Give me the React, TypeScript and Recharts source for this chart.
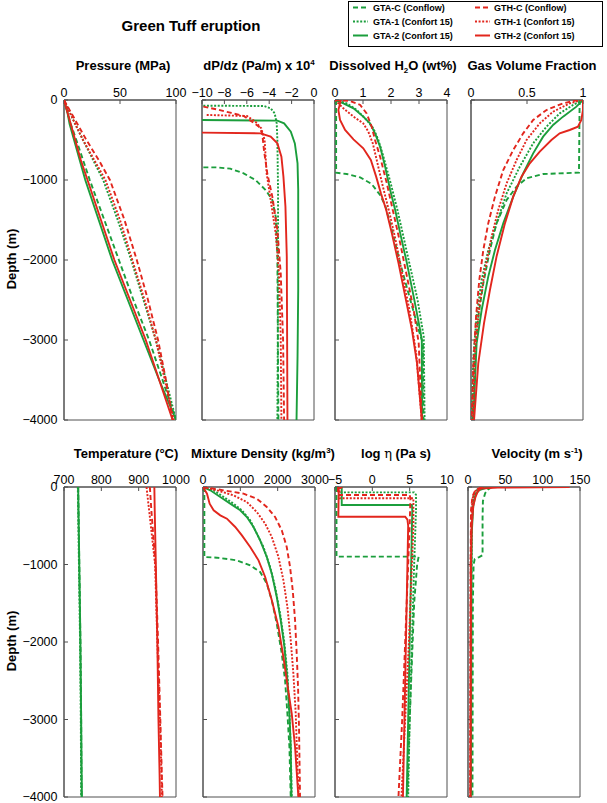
import React from 'react';
import { ScatterChart, Scatter, XAxis, YAxis, ReferenceArea } from 'recharts';

// ---------- series metadata ----------
const SERIES_LABELS = ['GTA-C (Conflow)', 'GTA-1 (Confort 15)', 'GTA-2 (Confort 15)', 'GTH-C (Conflow)', 'GTH-1 (Confort 15)', 'GTH-2 (Confort 15)'];
const GREEN = '#1b9e3c';
const RED = '#e2261d';
const SERIES_COLORS = [GREEN, GREEN, GREEN, RED, RED, RED];
const SERIES_DASH = ['5 3', '2 1.6', undefined, '5 3', '2 1.6', undefined];

const DEPTH_TICKS = [0, -1000, -2000, -3000, -4000];

// ---------- data: [value, depth (m)] ----------
// Pressure (MPa)
const P_GTA_C = [[0,0],[3,-150],[6,-300],[11,-500],[17,-750],[23,-1000],[36,-1500],[49,-2000],[62,-2500],[76,-3000],[88,-3500],[100,-4000]];
const P_GTA_1 = [[0,0],[5,-150],[10,-300],[17,-500],[26,-750],[35,-1000],[48,-1500],[60,-2000],[71,-2500],[82,-3000],[91,-3500],[100,-4000]];
const P_GTA_2 = [[0,0],[3,-150],[5,-300],[9,-500],[14,-750],[19,-1000],[31,-1500],[43,-2000],[57,-2500],[71,-3000],[85,-3500],[100,-4000]];
const P_GTH_C = [[0,0],[6,-150],[12,-300],[20,-500],[31,-750],[41,-1000],[54,-1500],[65,-2000],[75,-2500],[84,-3000],[91,-3500],[97,-4000]];
const P_GTH_1 = [[0,0],[5,-150],[10,-300],[17,-500],[27,-750],[37,-1000],[50,-1500],[61,-2000],[72,-2500],[82,-3000],[90,-3500],[98,-4000]];
const P_GTH_2 = [[0,0],[3,-150],[6,-300],[10,-500],[15,-750],[21,-1000],[33,-1500],[45,-2000],[59,-2500],[73,-3000],[85,-3500],[97,-4000]];

// dP/dz (Pa/m) x 1e4
const G_GTA_C = [[-9.88,-842],[-8.68,-842],[-7.48,-858],[-6.28,-917],[-5.23,-1000],[-4.32,-1125],[-3.72,-1250],[-3.42,-1458],[-3.27,-1958],[-3.18,-4000]];
const G_GTA_1 = [[-9.88,-71],[-4.47,-75],[-3.87,-104],[-3.51,-167],[-3.33,-292],[-3.27,-500],[-3.21,-1125],[-3.21,-2375],[-3.27,-4000]];
const G_GTA_2 = [[-10,-250],[-3.27,-258],[-2.67,-292],[-2.07,-396],[-1.71,-542],[-1.47,-792],[-1.41,-1125],[-1.41,-2375],[-1.47,-3208],[-1.56,-4000]];
const G_GTH_C = [[-9.88,-83],[-8.68,-117],[-7.48,-158],[-6.28,-200],[-5.53,-271],[-4.92,-333],[-4.62,-417],[-4.47,-625],[-4.17,-917],[-3.72,-1208],[-3.27,-1625],[-2.97,-2167],[-2.76,-3000],[-2.67,-4000]];
const G_GTH_1 = [[-9.58,-187],[-5.98,-200],[-5.23,-271],[-4.71,-354],[-4.41,-500],[-4.23,-917],[-3.87,-1250],[-3.42,-1667],[-3.12,-2167],[-2.97,-3000],[-2.91,-4000]];
const G_GTH_2 = [[-10,-408],[-4.77,-417],[-3.87,-458],[-3.27,-542],[-2.91,-708],[-2.73,-958],[-2.55,-1333],[-2.43,-1958],[-2.37,-4000]];

// Dissolved H2O (wt%)
const W_GTA_C = [[0.04,0],[0.04,-908],[0.42,-925],[0.9,-967],[1.31,-1050],[1.61,-1188],[1.79,-1313],[2.03,-1625],[2.33,-2042],[2.69,-2500],[2.99,-2875],[3.14,-3042],[3.16,-4000]];
const W_GTA_1 = [[0,0],[0.42,-42],[0.78,-125],[1.13,-250],[1.37,-354],[1.55,-500],[1.73,-708],[1.99,-1042],[2.23,-1375],[2.47,-1750],[2.71,-2125],[2.95,-2500],[3.17,-2958],[3.2,-4000]];
const W_GTA_2 = [[0,0],[0.3,-42],[0.66,-104],[1.01,-208],[1.25,-292],[1.43,-417],[1.61,-583],[1.79,-833],[1.97,-1125],[2.15,-1375],[2.33,-1667],[2.57,-2042],[2.81,-2458],[3.04,-2875],[3.1,-3000],[3.11,-4000]];
const W_GTH_C = [[0,0],[0.54,-12],[0.9,-62],[1.13,-167],[1.31,-333],[1.43,-500],[1.61,-708],[1.85,-1042],[2.09,-1417],[2.33,-1792],[2.57,-2208],[2.81,-2625],[2.99,-3042],[3.1,-4000]];
const W_GTH_1 = [[0,0],[0.3,-104],[0.66,-208],[1.01,-292],[1.19,-396],[1.35,-542],[1.49,-750],[1.71,-1083],[1.95,-1417],[2.19,-1792],[2.42,-2208],[2.66,-2625],[2.9,-3167],[3.1,-4000]];
const W_GTH_2 = [[0.21,0],[0.12,-125],[0.18,-250],[0.36,-375],[0.66,-492],[1.01,-604],[1.28,-750],[1.47,-958],[1.64,-1167],[1.83,-1375],[2.03,-1667],[2.27,-2042],[2.51,-2458],[2.75,-2875],[2.93,-3292],[3.1,-4000]];

// Gas volume fraction
const V_GTA_C = [[0.97,0],[0.964,-908],[0.644,-925],[0.496,-979],[0.407,-1083],[0.318,-1250],[0.228,-1542],[0.169,-1875],[0.11,-2292],[0.065,-2708],[0.036,-3208],[0.015,-4000]];
const V_GTA_1 = [[1,0],[0.911,-62],[0.792,-167],[0.674,-333],[0.555,-542],[0.436,-833],[0.318,-1167],[0.228,-1542],[0.154,-1875],[0.095,-2250],[0.05,-2708],[0.021,-3208],[0.006,-4000]];
const V_GTA_2 = [[1,0],[0.941,-83],[0.822,-208],[0.733,-312],[0.644,-458],[0.555,-667],[0.466,-917],[0.377,-1208],[0.288,-1542],[0.214,-1875],[0.154,-2208],[0.095,-2625],[0.05,-3042],[0.021,-4000]];
const V_GTH_C = [[0.955,0],[0.822,-42],[0.674,-125],[0.555,-250],[0.466,-417],[0.377,-625],[0.288,-875],[0.214,-1208],[0.154,-1542],[0.11,-1875],[0.074,-2250],[0.045,-2708],[0.021,-3292],[0.006,-4000]];
const V_GTH_1 = [[0.985,0],[0.881,-42],[0.733,-146],[0.614,-292],[0.496,-500],[0.407,-750],[0.318,-1042],[0.243,-1375],[0.184,-1708],[0.125,-2125],[0.074,-2583],[0.036,-3125],[0.015,-4000]];
const V_GTH_2 = [[1,0],[1,-125],[0.985,-250],[0.955,-333],[0.881,-375],[0.792,-417],[0.718,-500],[0.614,-646],[0.525,-792],[0.451,-958],[0.377,-1208],[0.303,-1542],[0.228,-1958],[0.169,-2375],[0.116,-2792],[0.065,-3292],[0.027,-4000]];

// Temperature (deg C)
const T_GTA_C = [[738,0],[741,-1000],[744,-2000],[746,-3000],[747,-4000]];
const T_GTA_1 = [[737,0],[740,-1000],[743,-2000],[745,-3000],[746,-4000]];
const T_GTA_2 = [[738,0],[741,-1000],[744,-2000],[746,-3000],[748,-4000]];
const T_GTH_C = [[930,0],[934,-300],[945,-1000],[952,-2000],[958,-3000],[962,-3700],[964,-4000]];
const T_GTH_1 = [[921,0],[928,-300],[944,-1000],[950,-2000],[957,-3000],[961,-3700],[962,-4000]];
const T_GTH_2 = [[942,0],[943,-300],[946,-1000],[950,-2000],[953,-3000],[956,-3700],[957,-4000]];

// Mixture density (kg/m3)
const D_GTA_C = [[36,0],[36,-903],[374,-912],[908,-946],[1264,-1011],[1531,-1097],[1709,-1247],[1843,-1462],[1976,-1763],[2110,-2150],[2199,-2495],[2261,-2925],[2315,-3355],[2350,-4000]];
const D_GTA_1 = [[0,0],[285,-43],[552,-129],[819,-215],[1042,-301],[1264,-430],[1442,-602],[1620,-774],[1798,-1032],[1932,-1290],[2065,-1634],[2172,-1978],[2261,-2409],[2315,-2925],[2350,-3355],[2377,-4000]];
const D_GTA_2 = [[0,0],[196,-43],[463,-129],[730,-215],[997,-301],[1175,-387],[1353,-516],[1531,-688],[1709,-903],[1843,-1118],[1976,-1419],[2083,-1720],[2181,-2064],[2261,-2495],[2315,-2925],[2350,-3355],[2368,-4000]];
const D_GTH_C = [[0,0],[552,-43],[1086,-86],[1442,-151],[1709,-258],[1932,-387],[2110,-559],[2243,-774],[2332,-1032],[2404,-1333],[2466,-1720],[2510,-2150],[2546,-2581],[2573,-3140],[2599,-4000]];
const D_GTH_1 = [[0,0],[374,-43],[819,-108],[1175,-194],[1442,-323],[1665,-473],[1843,-645],[2021,-903],[2154,-1204],[2261,-1548],[2350,-1978],[2421,-2409],[2484,-2925],[2528,-3570],[2564,-4000]];
const D_GTH_2 = [[0,0],[107,-86],[178,-215],[285,-301],[463,-366],[641,-409],[863,-516],[1042,-624],[1264,-774],[1487,-946],[1665,-1161],[1843,-1462],[2021,-1806],[2154,-2194],[2270,-2581],[2377,-2925],[2466,-3355],[2555,-4000]];

// log viscosity (Pa s)
const E_GTA_C = [[-4.8,0],[-4.8,-899],[6.2,-899],[6.0,-1000],[5.6,-1500],[5.2,-2500],[4.9,-3300],[4.7,-4000]];
const E_GTA_1 = [[-4.5,0],[-4.6,-50],[-4.5,-69],[5.6,-69],[5.85,-100],[5.85,-300],[5.6,-1000],[5.3,-2000],[5.0,-3000],[4.8,-4000]];
const E_GTA_2 = [[-4.1,0],[-4.1,-232],[5.3,-232],[5.35,-300],[5.2,-1000],[5.0,-2000],[4.8,-3000],[4.6,-4000]];
const E_GTH_C = [[-4.6,0],[-4.6,-103],[5.0,-103],[5.1,-150],[5.0,-500],[4.8,-1000],[4.4,-2000],[4.0,-3000],[3.5,-4000]];
const E_GTH_1 = [[-4.4,0],[-4.4,-146],[5.5,-146],[5.5,-500],[5.3,-1000],[4.9,-2000],[4.4,-3000],[3.9,-4000]];
const E_GTH_2 = [[-4.0,0],[-4.5,-20],[-4.55,-383],[4.4,-383],[4.7,-420],[4.8,-500],[4.7,-1000],[4.5,-2000],[4.3,-3000],[4.1,-4000]];

// Velocity (m/s)
const U_GTA_C = [[32,0],[27,-30],[23,-80],[20,-180],[19.5,-400],[19.5,-880],[15,-905],[9,-930],[7.5,-1000],[6.5,-1500],[6,-4000]];
const U_GTA_1 = [[22,0],[12,-40],[8,-100],[6,-250],[5,-600],[4.5,-1500],[4,-4000]];
const U_GTA_2 = [[28,0],[15,-40],[10,-100],[7,-250],[5,-600],[4.5,-1500],[4,-4000]];
const U_GTH_C = [[18,0],[10,-40],[6,-120],[4,-300],[3.5,-1000],[3,-4000]];
const U_GTH_1 = [[20,0],[10,-50],[6,-150],[4.5,-400],[3.5,-1000],[3,-4000]];
const U_GTH_2 = [[136,0],[40,-8],[17,-20],[13,-60],[10,-130],[7,-250],[5,-500],[4,-1000],[3.5,-4000]];

// ---------- axis ticks ----------
const P_TICKS = [0, 50, 100];
const G_TICKS = [-10, -8, -6, -4, -2, 0];
const W_TICKS = [0, 1, 2, 3, 4];
const V_TICKS = [0, 0.5, 1];
const T_TICKS = [700, 800, 900, 1000];
const D_TICKS = [0, 1000, 2000, 3000];
const E_TICKS = [-5, 0, 5, 10];
const U_TICKS = [0, 50, 100, 150];

const FONT = '"Liberation Sans", Arial, Helvetica, sans-serif';
const AXIS_COLOR = '#505050';

const PANELS = [
  { left: 64, top: 100, plotH: 320, first: true, ticks: P_TICKS, series: [P_GTA_C, P_GTA_1, P_GTA_2, P_GTH_C, P_GTH_1, P_GTH_2] },
  { left: 202, top: 100, plotH: 320, first: false, ticks: G_TICKS, series: [G_GTA_C, G_GTA_1, G_GTA_2, G_GTH_C, G_GTH_1, G_GTH_2] },
  { left: 335, top: 100, plotH: 320, first: false, ticks: W_TICKS, series: [W_GTA_C, W_GTA_1, W_GTA_2, W_GTH_C, W_GTH_1, W_GTH_2] },
  { left: 471, top: 100, plotH: 320, first: false, ticks: V_TICKS, series: [V_GTA_C, V_GTA_1, V_GTA_2, V_GTH_C, V_GTH_1, V_GTH_2] },
  { left: 64, top: 487, plotH: 310, first: true, ticks: T_TICKS, series: [T_GTA_C, T_GTA_1, T_GTA_2, T_GTH_C, T_GTH_1, T_GTH_2] },
  { left: 203, top: 487, plotH: 310, first: false, ticks: D_TICKS, series: [D_GTA_C, D_GTA_1, D_GTA_2, D_GTH_C, D_GTH_1, D_GTH_2] },
  { left: 335, top: 487, plotH: 310, first: false, ticks: E_TICKS, series: [E_GTA_C, E_GTA_1, E_GTA_2, E_GTH_C, E_GTH_1, E_GTH_2] },
  { left: 468, top: 487, plotH: 310, first: false, ticks: U_TICKS, series: [U_GTA_C, U_GTA_1, U_GTA_2, U_GTH_C, U_GTH_1, U_GTH_2] },
];

const fmt = (v: number) => String(v).replace('-', '\u2212');
const blank = () => '';

function NoDot() {
  return null;
}

function Panel({ panel }: { panel: any }) {
  const { left, top, plotH, first, ticks, series } = panel;
  const ML = first ? 60 : 16;
  const MT = 22;
  const MR = 22;
  const MB = 10;
  const PW = 112;
  const domain = [ticks[0], ticks[ticks.length - 1]];
  const tickStyle = { fontSize: 12.5, fill: '#000', fontFamily: FONT };
  return (
    <div style={{ position: 'absolute', left: left - ML, top: top - MT }}>
      <ScatterChart width={ML + PW + MR} height={MT + plotH + MB} margin={{ top: 0, right: MR, bottom: MB, left: 0 }}>
        <XAxis
          type="number"
          dataKey="x"
          orientation="top"
          domain={domain}
          ticks={ticks}
          interval={0}
          allowDataOverflow
          height={MT}
          tickSize={-4}
          tickMargin={7.5}
          tick={tickStyle}
          tickLine={{ stroke: AXIS_COLOR }}
          axisLine={{ stroke: AXIS_COLOR }}
          tickFormatter={fmt}
        />
        <YAxis
          type="number"
          dataKey="y"
          domain={[-4000, 0]}
          ticks={DEPTH_TICKS}
          interval={0}
          allowDataOverflow
          width={ML}
          tickSize={-4}
          tickMargin={10.5}
          tick={tickStyle}
          tickLine={{ stroke: AXIS_COLOR }}
          axisLine={{ stroke: AXIS_COLOR }}
          tickFormatter={first ? fmt : blank}
        />
        {series.map((pts: number[][], i: number) => (
          <Scatter
            key={i}
            data={pts.map(([v, d]) => ({ x: v, y: d }))}
            fill={SERIES_COLORS[i]}
            line={{ stroke: SERIES_COLORS[i], strokeWidth: 1.9, strokeDasharray: SERIES_DASH[i] }}
            shape={<NoDot />}
            isAnimationActive={false}
            legendType="none"
          />
        ))}
        <ReferenceArea
          x1={domain[0]}
          x2={domain[1]}
          y1={-4000}
          y2={0}
          fill="none"
          stroke={AXIS_COLOR}
          strokeWidth={1}
          ifOverflow="visible"
        />
      </ScatterChart>
    </div>
  );
}

const TITLE_STYLE = { fontFamily: FONT, fontWeight: 'bold' as const, fontSize: 13, fill: '#000' };

function Overlay() {
  const legendRows = [0, 1, 2];
  return (
    <svg width={607} height={803} style={{ position: 'absolute', left: 0, top: 0 }}>
      <text x={191} y={31} textAnchor="middle" style={{ ...TITLE_STYLE, fontSize: 15 }}>Green Tuff eruption</text>

      {/* legend */}
      <rect x={348.5} y={1.5} width={254} height={45} fill="#fff" stroke="#000" strokeWidth={1} />
      {legendRows.map((r) => (
        <g key={r}>
          <line x1={353} x2={368} y1={7.5 + 14 * r} y2={7.5 + 14 * r} stroke={SERIES_COLORS[r]} strokeWidth={2} strokeDasharray={SERIES_DASH[r]} />
          <text x={373} y={10.8 + 14 * r} style={{ ...TITLE_STYLE, fontSize: 9 }}>{SERIES_LABELS[r]}</text>
          <line x1={475} x2={490} y1={7.5 + 14 * r} y2={7.5 + 14 * r} stroke={SERIES_COLORS[r + 3]} strokeWidth={2} strokeDasharray={SERIES_DASH[r + 3]} />
          <text x={494} y={10.8 + 14 * r} style={{ ...TITLE_STYLE, fontSize: 9 }}>{SERIES_LABELS[r + 3]}</text>
        </g>
      ))}

      {/* panel titles, top row */}
      <text x={123} y={69.5} textAnchor="middle" style={TITLE_STYLE}>Pressure (MPa)</text>
      <text x={259} y={69.5} textAnchor="middle" style={TITLE_STYLE}>
        dP/dz (Pa/m) x 10<tspan dy={-5} fontSize={8}>4</tspan>
      </text>
      <text x={393} y={69.5} textAnchor="middle" style={TITLE_STYLE}>
        Dissolved H<tspan dy={3} fontSize={8}>2</tspan><tspan dy={-3}>O (wt%)</tspan>
      </text>
      <text x={532} y={69.5} textAnchor="middle" style={TITLE_STYLE}>Gas Volume Fraction</text>

      {/* panel titles, bottom row */}
      <text x={126} y={457.5} textAnchor="middle" style={TITLE_STYLE}>Temperature (°C)</text>
      <text x={263} y={457.5} textAnchor="middle" style={TITLE_STYLE}>
        Mixture Density (kg/m<tspan dy={-5} fontSize={8}>3</tspan><tspan dy={5}>)</tspan>
      </text>
      <text x={396} y={457.5} textAnchor="middle" style={TITLE_STYLE}>
        log <tspan fontWeight="normal" fontFamily="DejaVu Serif, serif">η</tspan> (Pa s)
      </text>
      <text x={537} y={457.5} textAnchor="middle" style={TITLE_STYLE}>
        Velocity (m s<tspan dy={-5} fontSize={8}>-1</tspan><tspan dy={5}>)</tspan>
      </text>

      {/* y axis labels */}
      <text transform="translate(15.5,259) rotate(-90)" textAnchor="middle" style={TITLE_STYLE}>Depth (m)</text>
      <text transform="translate(15.5,641) rotate(-90)" textAnchor="middle" style={TITLE_STYLE}>Depth (m)</text>
    </svg>
  );
}

export default function App() {
  return (
    <div style={{ position: 'absolute', left: 0, top: 0, width: 607, height: 803, background: '#fff', overflow: 'hidden' }}>
      <Overlay />
      {PANELS.map((p, i) => (
        <Panel key={i} panel={p} />
      ))}
    </div>
  );
}
